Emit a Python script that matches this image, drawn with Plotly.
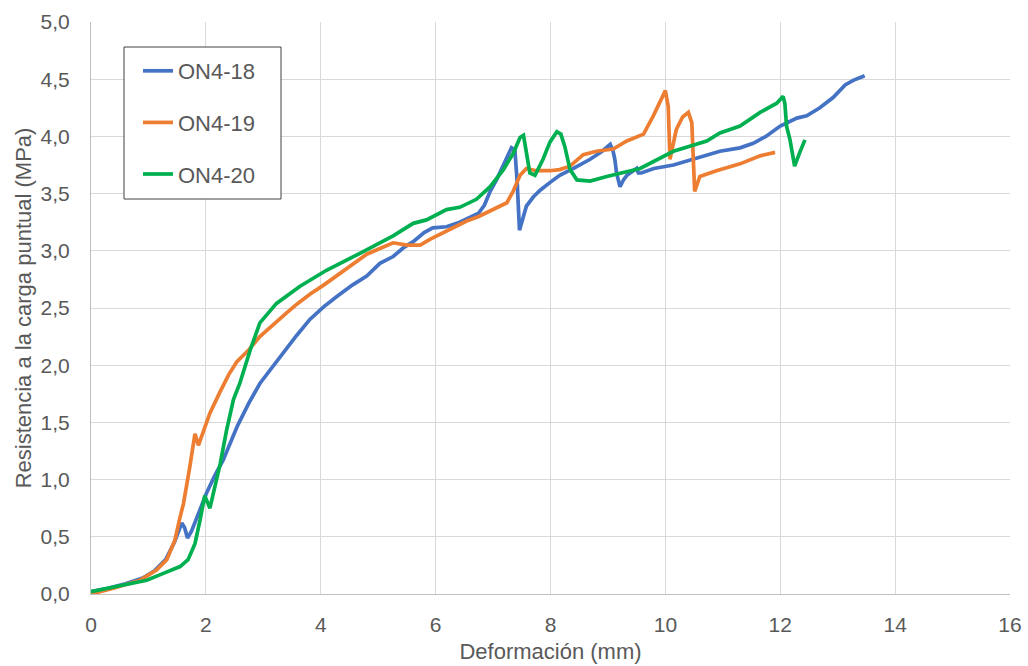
import plotly.graph_objects as go

# ---- data ----
on418_x = [0.00, 0.30, 0.60, 0.90, 1.10, 1.30, 1.45, 1.58, 1.63, 1.68, 1.75, 1.90, 2.01, 2.15, 2.30,
           2.55, 2.75, 2.94, 3.15, 3.35, 3.58, 3.81, 4.05, 4.28, 4.55, 4.80, 5.03, 5.26, 5.45, 5.61,
           5.80, 5.95, 6.19, 6.42, 6.60, 6.75, 6.85, 6.95, 7.06, 7.20, 7.32, 7.38, 7.42, 7.46, 7.50,
           7.58, 7.70, 7.82, 8.00, 8.16, 8.40, 8.69, 8.90, 9.04, 9.09, 9.12, 9.15, 9.21, 9.27, 9.33,
           9.50, 9.53, 9.58, 9.80, 10.14, 10.49, 10.72, 10.95, 11.30, 11.53, 11.75, 12.00, 12.29,
           12.46, 12.69, 12.92, 13.13, 13.27, 13.47]
on418_y = [0.02, 0.05, 0.09, 0.14, 0.20, 0.30, 0.45, 0.62, 0.58, 0.49, 0.55, 0.75, 0.88, 1.03, 1.17,
           1.47, 1.67, 1.84, 1.98, 2.10, 2.26, 2.40, 2.51, 2.60, 2.70, 2.78, 2.89, 2.95, 3.03, 3.08,
           3.16, 3.20, 3.21, 3.25, 3.29, 3.33, 3.40, 3.52, 3.62, 3.77, 3.90, 3.88, 3.60, 3.18, 3.25,
           3.39, 3.47, 3.53, 3.60, 3.66, 3.72, 3.80, 3.87, 3.93, 3.87, 3.80, 3.68, 3.56, 3.62, 3.66,
           3.72, 3.68, 3.68, 3.72, 3.75, 3.80, 3.83, 3.87, 3.90, 3.94, 4.00, 4.09, 4.16,
           4.18, 4.25, 4.34, 4.45, 4.49, 4.53]

on419_x = [0.00, 0.39, 0.85, 1.14, 1.32, 1.46, 1.55, 1.61, 1.72, 1.81, 1.87, 1.96, 2.07, 2.24, 2.40,
           2.54, 2.74, 2.94, 3.18, 3.41, 3.60, 3.81, 4.05, 4.28, 4.55, 4.80, 5.03, 5.26, 5.50, 5.73,
           5.90, 6.13, 6.35, 6.54, 6.75, 6.95, 7.10, 7.24, 7.35, 7.47, 7.58, 7.75, 7.99, 8.16, 8.34,
           8.57, 8.80, 9.09, 9.33, 9.62, 9.79, 10.00, 10.05, 10.08, 10.19, 10.30, 10.40, 10.46, 10.51,
           10.60, 10.89, 11.30, 11.65, 11.91]
on419_y = [0.00, 0.05, 0.12, 0.21, 0.30, 0.47, 0.67, 0.79, 1.11, 1.40, 1.30, 1.43, 1.58, 1.76, 1.92,
           2.03, 2.13, 2.25, 2.36, 2.46, 2.54, 2.62, 2.70, 2.78, 2.88, 2.97, 3.02, 3.07, 3.05, 3.05,
           3.10, 3.16, 3.21, 3.26, 3.30, 3.35, 3.39, 3.42, 3.52, 3.66, 3.72, 3.70, 3.70, 3.71, 3.74,
           3.84, 3.87, 3.89, 3.96, 4.02, 4.18, 4.40, 4.26, 3.80, 4.06, 4.17, 4.21, 4.12, 3.52,
           3.65, 3.70, 3.76, 3.83, 3.86]

on420_x = [0.00, 0.39, 0.80, 0.97, 1.26, 1.55, 1.69, 1.81, 1.90, 1.98, 2.07, 2.16, 2.25, 2.36, 2.48,
           2.59, 2.77, 2.94, 3.23, 3.64, 4.10, 4.69, 5.26, 5.61, 5.84, 6.19, 6.42, 6.71, 6.95, 7.18,
           7.35, 7.47, 7.53, 7.58, 7.64, 7.73, 7.87, 7.99, 8.11, 8.18, 8.25, 8.34, 8.46, 8.69, 8.98,
           9.56, 10.14, 10.72, 10.95, 11.30, 11.65, 11.94, 12.05, 12.08, 12.11, 12.17, 12.25, 12.34, 12.43]
on420_y = [0.02, 0.06, 0.11, 0.12, 0.18, 0.24, 0.30, 0.44, 0.65, 0.86, 0.75, 0.94, 1.14, 1.43, 1.70,
           1.84, 2.13, 2.37, 2.54, 2.69, 2.83, 2.98, 3.13, 3.24, 3.27, 3.36, 3.38, 3.45, 3.56, 3.71,
           3.85, 3.99, 4.01, 3.86, 3.68, 3.66, 3.80, 3.95, 4.04, 4.02, 3.91, 3.71, 3.62, 3.61, 3.65,
           3.72, 3.87, 3.96, 4.03, 4.09, 4.21, 4.29, 4.35, 4.29, 4.09, 3.97, 3.74, 3.86, 3.97]

series_names = ["ON4-18", "ON4-19", "ON4-20"]
series_colors = ["#4472C4", "#ED7D31", "#00B050"]
x_ticks = [0, 2, 4, 6, 8, 10, 12, 14, 16]
y_ticks = [0.0, 0.5, 1.0, 1.5, 2.0, 2.5, 3.0, 3.5, 4.0, 4.5, 5.0]

FONT = "Liberation Sans, Arial, sans-serif"
TXT = "#595959"

fig = go.Figure()
for i, (xs, ys) in enumerate([(on418_x, on418_y), (on419_x, on419_y), (on420_x, on420_y)]):
    fig.add_trace(go.Scatter(
        x=xs, y=ys, mode="lines", name=series_names[i], legendgroup=series_names[i],
        line=dict(color=series_colors[i], width=3.7, shape="linear"),
    ))

# legend frame
W, H = 1028, 666
L, R, T, B = 91, 18, 22, 72
pw, ph = W - L - R, H - T - B
def px2x(p): return (p - L) / pw
def px2y(p): return (H - B - p) / ph

fig.add_shape(type="rect", xref="paper", yref="paper",
              x0=px2x(124), x1=px2x(281), y0=px2y(199), y1=px2y(47),
              line=dict(color="#404040", width=1), fillcolor="white", layer="above")

fig.update_layout(
    width=W, height=H,
    margin=dict(l=L, r=R, t=T, b=B, autoexpand=False),
    paper_bgcolor="white", plot_bgcolor="white",
    separators=", ",
    font=dict(family=FONT, color=TXT, size=21),
    showlegend=True,
    legend=dict(x=px2x(138), y=px2y(50), xanchor="left", yanchor="top",
                bgcolor="rgba(0,0,0,0)", borderwidth=0,
                font=dict(family=FONT, size=22, color=TXT),
                traceorder="grouped", tracegroupgap=20),
    xaxis=dict(range=[0, 16], tickvals=x_ticks, showgrid=True, gridcolor="#D9D9D9", gridwidth=1,
               zeroline=False, showline=True, linecolor="#BFBFBF", linewidth=1, mirror=False,
               ticks="", ticklabelstandoff=12, automargin=False,
               title=dict(text="Deformación (mm)", font=dict(size=22, color=TXT), standoff=8)),
    yaxis=dict(range=[0, 5], tickvals=y_ticks, tickformat=".1f", showgrid=True, gridcolor="#D9D9D9",
               gridwidth=1, zeroline=False, showline=True, linecolor="#BFBFBF", linewidth=1,
               ticks="", ticklabelstandoff=16, automargin=False,
               title=dict(text="Resistencia a la carga puntual (MPa)", font=dict(size=22, color=TXT), standoff=2)),
)

fig.write_html("out.html")
